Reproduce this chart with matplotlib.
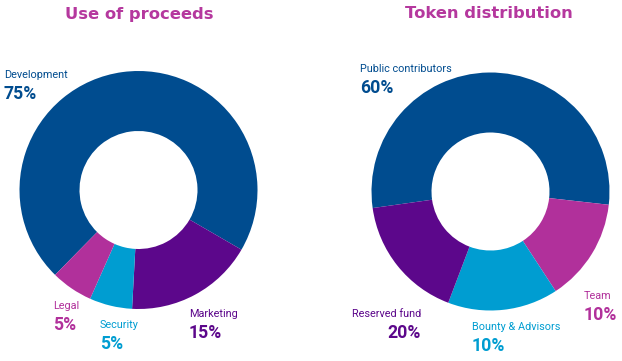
import matplotlib

matplotlib.use("Agg")
import matplotlib.pyplot as plt

# Use of proceeds (wedge sizes read from the drawn ring, labels as printed)
proceeds_names = ["Development", "Marketing", "Security", "Legal"]
proceeds_shares = [71, 17.5, 5.8, 5.7]
proceeds_pct = ["75%", "15%", "5%", "5%"]

# Token distribution
token_names = ["Public contributors", "Team", "Bounty & Advisors", "Reserved fund"]
token_shares = [54, 14, 15, 17]
token_pct = ["60%", "10%", "10%", "20%"]

BLUE = "#004C8F"
PURPLE = "#5C078B"
CYAN = "#009DD1"
MAGENTA = "#B1309B"
TITLE = "#B5389E"

W, H = 622, 361

fig = plt.figure(figsize=(W / 100, H / 100), dpi=100)
ax = fig.add_axes([0, 0, 1, 1])


def donut(center, start, shares, colors):
    ax.pie(
        shares,
        colors=colors,
        center=center,
        radius=119,
        startangle=start,
        counterclock=False,
        wedgeprops=dict(width=60, edgecolor="none"),
        frame=True,
    )


def label(x, y, name, pct, color, ha="left"):
    # x, y in pixels from top-left
    ax.text(x, H - y, name, color=color, fontsize=7.8, family="Roboto", ha=ha, va="center")
    ax.text(x, H - y - 19, pct, color=color, fontsize=12.7, family="Roboto",
            fontweight="bold", ha=ha, va="center")


donut((138.5, H - 190), 225.5, proceeds_shares, [BLUE, PURPLE, CYAN, MAGENTA])
donut((490.5, H - 191.5), 188, token_shares, [BLUE, MAGENTA, CYAN, PURPLE])
ax.set_xlim(0, W)
ax.set_ylim(0, H)
ax.set_aspect("equal")
ax.axis("off")

ax.text(139, H - 14, "Use of proceeds", color=TITLE, fontsize=11.8, fontweight="bold",
        ha="center", va="center")
ax.text(489, H - 14, "Token distribution", color=TITLE, fontsize=11.8, fontweight="bold",
        ha="center", va="center")

label(4, 75, proceeds_names[0], proceeds_pct[0], BLUE)
label(189, 314, proceeds_names[1], proceeds_pct[1], PURPLE)
label(100, 325, proceeds_names[2], proceeds_pct[2], CYAN)
label(53, 306, proceeds_names[3], proceeds_pct[3], MAGENTA)

label(360, 69, token_names[0], token_pct[0], BLUE)
label(584, 296, token_names[1], token_pct[1], MAGENTA)
label(472, 327, token_names[2], token_pct[2], CYAN)
label(421, 314, token_names[3], token_pct[3], PURPLE, ha="right")

fig.savefig("out.png", dpi=100)
